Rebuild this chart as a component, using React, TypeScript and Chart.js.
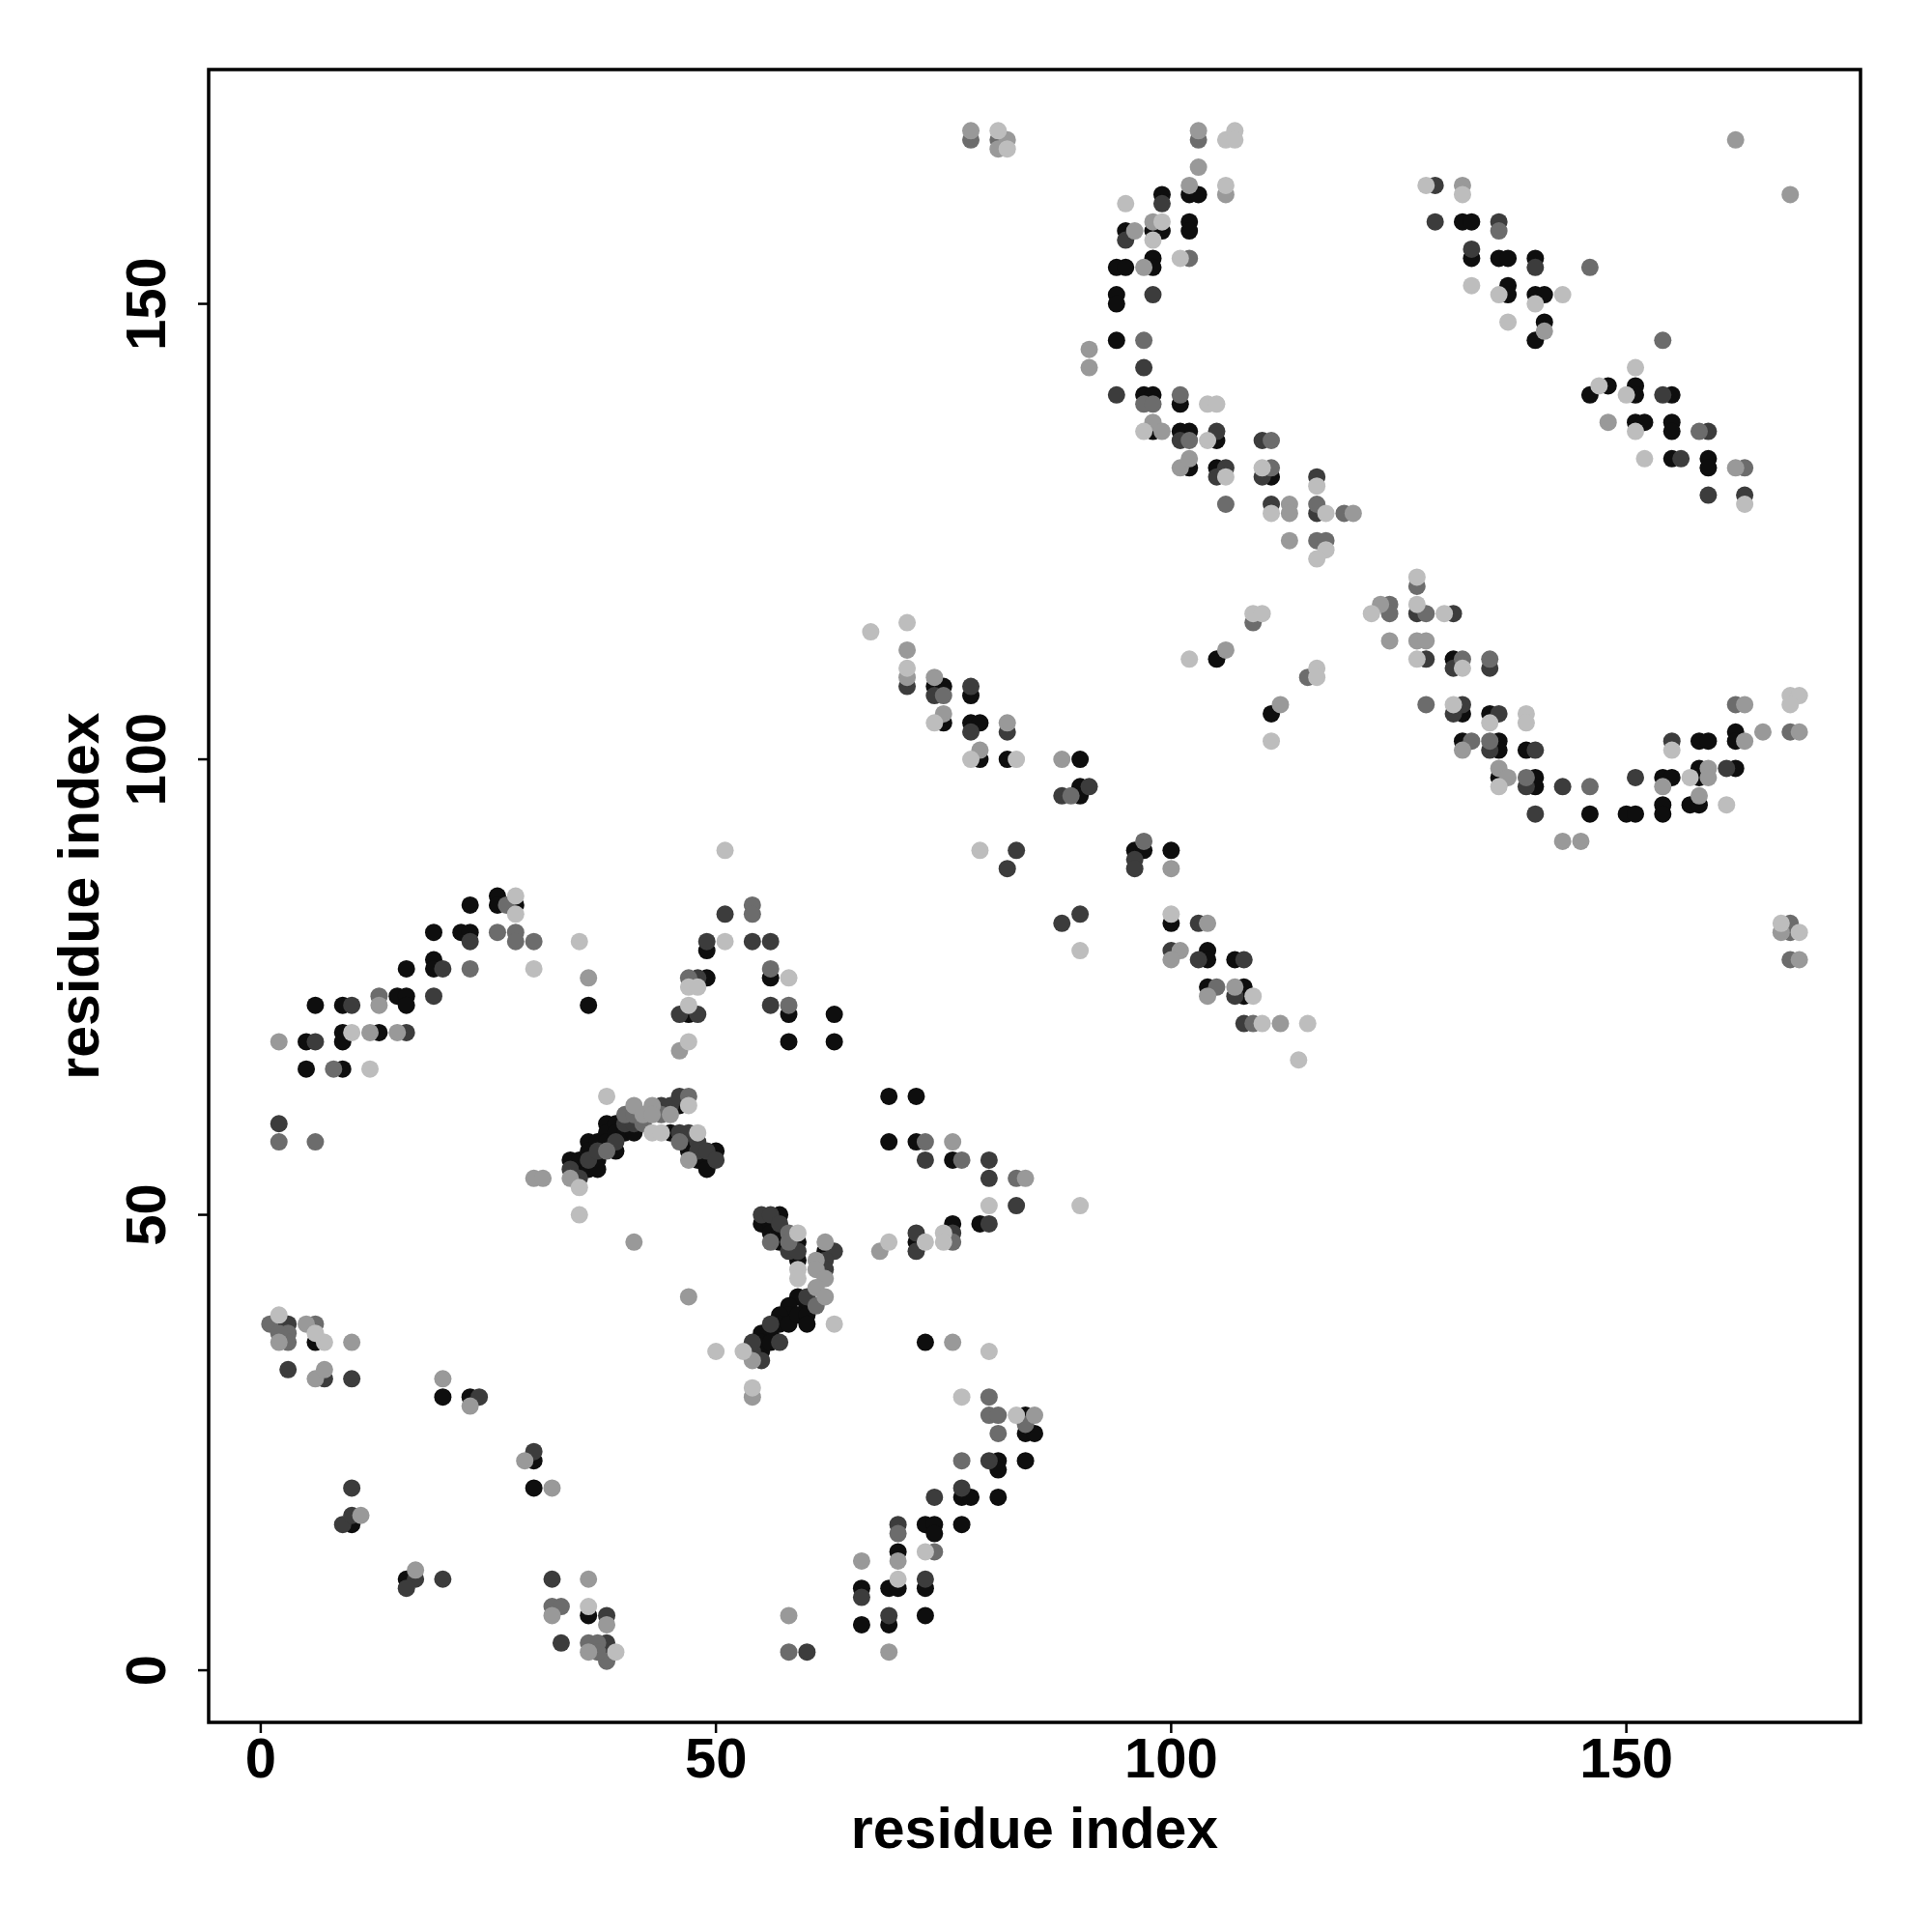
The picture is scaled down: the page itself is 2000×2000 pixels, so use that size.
import React, { useEffect, useRef } from "react";
import { Chart, registerables } from "chart.js";

Chart.register(...registerables);

type P = [number, number];

// Contact points, grouped by grey level (residue index i, residue index j)
const blackPoints: P[] = [
  [2,38],[6,36],[20,30],[23,30],[30,23],[30,20],[10,16],[16,10],[36,6],[38,2],
  [26,85],[26,84],[28,84],[23,84],[19,81],[22,81],[23,81],[19,78],[19,77],[16,77],[36,73],
  [15,74],[16,74],[16,73],[6,73],[9,73],[5,69],[9,70],[9,69],[13,70],[5,66],[9,66],
  [73,36],[84,28],[84,26],[85,26],[81,23],[81,22],[84,23],[77,19],[78,19],[81,19],
  [73,16],[74,16],[74,15],[77,16],[70,13],[66,9],[69,9],[70,9],[73,9],[66,5],[69,5],[73,6],
  [49,79],[56,76],[49,76],[47,72],[58,72],[63,72],[58,69],[63,69],[69,63],[72,63],
  [69,58],[72,58],[76,56],[76,49],[79,49],[72,47],
  [74,108],[75,108],[78,107],[75,104],[78,104],[79,104],[79,100],[82,100],[90,100],
  [90,97],[90,96],[105,111],[111,105],[96,90],[97,90],[100,90],[100,82],[104,79],[104,78],
  [107,78],[104,75],[108,75],[108,74],
  [34,56],[35,56],[35,55],[36,58],[36,57],[36,55],[37,58],[37,56],[37,55],[38,60],[38,59],
  [38,58],[39,60],[39,59],[39,57],[40,59],[41,59],[45,59],[46,62],[47,58],[47,57],[48,56],
  [49,56],[49,55],[50,57],
  [57,50],[55,49],[56,49],[56,48],[57,48],[57,47],[59,47],[59,45],[59,41],[60,40],[58,40],
  [58,39],[57,39],[57,38],[56,37],[55,37],[55,36],[55,35],[56,36],[58,38],[59,39],[60,39],
  [60,38],[62,46],
  [102,162],[103,162],[99,162],[95,158],[98,158],[99,158],[102,159],[102,158],[94,154],
  [95,154],[98,155],[98,154],[94,151],[94,150],[94,146],[97,140],[98,140],[101,139],
  [98,136],[101,136],[102,136],[105,135],[102,132],[105,132],[111,131],
  [132,159],[133,159],[133,155],[136,155],[137,155],[140,155],[137,152],[137,151],[140,151],
  [141,151],[141,148],[140,146],[146,140],[148,141],[151,141],[151,140],[155,140],[151,137],
  [152,137],[155,137],[155,136],[155,133],[159,133],[159,132],
  [131,111],[132,105],[135,105],[132,102],[136,102],[136,101],[139,101],[136,98],[140,98],
  [140,97],[146,94],[150,94],[151,94],[154,95],[154,94],[154,98],[155,98],[158,99],[158,98],
  [157,95],[158,95],[162,99],[158,102],[159,102],[162,103],[162,102]
];

const darkPoints: P[] = [
  [3,38],[3,33],[7,32],[10,32],[24,30],[30,24],[10,20],[9,16],[10,17],[17,10],[16,9],[20,10],
  [32,10],[38,6],[33,3],[38,3],
  [23,80],[20,77],[19,74],[10,73],[6,69],[16,70],[2,60],
  [54,35],[55,34],[80,23],[74,19],[77,20],[70,16],[66,8],[73,10],[69,6],[60,2],
  [83,90],[82,88],[90,83],[88,82],[51,83],[49,80],[54,80],[56,80],[48,76],[48,72],[46,72],
  [56,73],[73,56],[80,56],[80,54],[83,51],[76,48],[80,49],[72,48],[72,46],
  [71,108],[74,107],[78,108],[78,103],[82,103],[88,96],[91,97],[96,89],[96,88],
  [103,82],[100,79],[103,78],[108,78],[107,74],[108,71],
  [34,55],[35,54],[36,56],[37,57],[39,58],[40,60],[41,60],[44,62],[45,62],[46,63],[46,59],
  [47,59],[48,58],[48,57],[49,57],[50,56],
  [55,50],[56,50],[57,49],[58,46],[59,46],[63,46],[62,45],[62,44],[60,41],[56,38],[54,36],
  [57,36],
  [99,161],[95,157],[98,151],[97,143],[94,140],[101,135],[105,136],[105,131],[106,132],
  [110,135],[110,131],[116,131],[111,128],[116,127],
  [129,163],[129,159],[136,159],[133,156],[140,154],[154,140],[156,133],[159,136],[159,129],
  [163,129],
  [127,116],[131,116],[128,111],[131,110],[135,110],[132,106],[131,105],[136,105],[135,101],
  [140,101],[139,97],[143,97],[140,94],[151,98],[155,102],[161,99]
];

const midPoints: P[] = [
  [1,38],[3,37],[3,36],[2,37],[6,38],[32,7],[33,7],[36,3],[37,3],[38,1],[37,2],
  [27,84],[26,81],[28,81],[28,80],[30,80],[23,77],[13,74],[8,66],[2,58],[6,58],
  [80,30],[80,28],[81,28],[81,26],[84,27],[77,23],[70,15],[74,13],[58,2],
  [54,84],[54,83],[56,77],[47,76],[58,73],[47,63],[73,58],[77,56],[83,54],[76,47],
  [75,107],[89,96],[109,115],[115,109],[97,91],[105,75],[109,71],
  [38,57],[40,61],[41,61],[42,60],[44,61],[46,58],
  [58,48],[56,47],[58,47],[61,40],
  [78,168],[81,168],[103,168],[102,155],[97,146],[97,139],[98,139],[101,140],[102,135],
  [111,135],[111,132],[106,128],[116,128],[119,127],[116,124],[117,124],
  [136,158],[146,154],[154,146],[158,136],[163,132],
  [127,119],[124,117],[124,116],[128,116],[132,111],[135,111],[128,106],[133,102],[135,102],
  [139,98],[146,97],[162,106],[168,103],[168,82],[168,81],[168,78]
];

const greyPoints: P[] = [
  [2,36],[5,38],[10,36],[6,32],[7,33],[20,32],[23,29],[29,23],[32,20],[11,17],[17,11],
  [36,10],[32,6],[38,5],[36,2],[47,41],
  [36,76],[13,73],[2,69],[12,70],[15,70],[30,54],[31,54],[41,47],
  [54,34],[54,30],[76,36],[85,28],[66,12],[70,12],[58,6],[69,2],
  [46,68],[76,58],[84,54],[68,46],
  [71,112],[71,109],[74,109],[75,105],[82,104],[79,101],[88,100],[106,112],[112,106],
  [100,88],[104,82],[101,79],[100,78],[104,74],[107,75],[112,71],
  [34,54],[41,62],[42,61],[43,62],[43,61],[45,61],[47,56],
  [62,47],[61,45],[61,44],[62,43],[61,42],[62,41],
  [78,169],[81,167],[82,168],[103,169],[103,165],[102,163],[106,162],[96,158],[98,159],
  [97,154],[91,145],[91,143],[98,137],[99,136],[101,132],[102,133],[113,128],[113,127],
  [120,127],[113,124],
  [162,168],[168,162],[132,163],[141,147],[148,137],[162,132],
  [123,117],[124,113],[127,113],[128,113],[132,101],[136,99],[137,98],[143,91],[145,91],
  [154,97],[159,99],[159,98],[158,96],[163,102],[163,106],[165,103],[169,103],[167,81],
  [169,78]
];

const lightPoints: P[] = [
  [2,39],[7,36],[6,37],[36,7],[39,2],
  [28,85],[28,83],[35,80],[30,77],[10,70],[12,66],[35,50],[38,63],
  [50,35],[53,35],[54,31],[63,38],[80,35],[77,30],[83,28],[73,13],[70,10],
  [51,90],[79,90],[90,79],[51,80],[58,76],[47,75],[48,75],[47,73],[47,69],[47,62],
  [80,51],[90,51],[75,48],[75,47],[73,47],[69,47],
  [67,114],[71,115],[71,110],[74,104],[78,100],[83,100],[102,111],[109,116],[110,116],
  [111,102],[116,110],[116,109],[100,83],[109,74],[110,71],[115,71],[114,67],
  [35,53],[43,59],[44,59],[48,59],[59,48],[59,44],[59,43],
  [81,169],[82,167],[106,168],[107,169],[107,168],[106,163],[95,161],[99,159],[98,157],
  [101,155],[104,139],[105,139],[97,136],[104,135],[106,131],[110,132],[116,130],[111,127],
  [117,127],[117,123],[116,122],
  [128,163],[132,162],[133,152],[136,151],[143,151],[140,150],[137,148],[151,143],[147,141],
  [150,140],[151,136],[152,133],[163,128],
  [127,120],[122,116],[127,117],[130,116],[127,111],[132,110],[131,106],[135,104],[139,105],
  [139,104],[136,97],[155,101],[157,98],[161,95],[168,107],[169,107],[168,106],[167,82],
  [169,81]
];

const tickValues = [0, 50, 100, 150];
const xTitle = "residue index";
const yTitle = "residue index";

const seriesDefs: { name: string; pts: P[]; color: string }[] = [
  { name: "light", pts: lightPoints, color: "#bdbdbd" },
  { name: "grey", pts: greyPoints, color: "#999999" },
  { name: "mid", pts: midPoints, color: "#6c6c6c" },
  { name: "dark", pts: darkPoints, color: "#3c3c3c" },
  { name: "black", pts: blackPoints, color: "#0e0e0e" },
];

const FONT = '"Liberation Sans", Arial, Helvetica, sans-serif';

const framePlugin = {
  id: "rframe",
  afterDraw(chart: any) {
    const { ctx, chartArea } = chart;
    const { left, right, top, bottom } = chartArea;
    const xs = chart.scales.x;
    const ys = chart.scales.y;
    ctx.save();
    ctx.strokeStyle = "#000";
    ctx.lineWidth = 3.5;
    ctx.strokeRect(left, top, right - left, bottom - top);
    ctx.lineWidth = 2.5;
    ctx.fillStyle = "#000";
    ctx.font = `bold 58px ${FONT}`;
    ctx.textAlign = "center";
    ctx.textBaseline = "alphabetic";
    for (const v of tickValues) {
      const px = xs.getPixelForValue(v);
      ctx.beginPath();
      ctx.moveTo(px, bottom);
      ctx.lineTo(px, bottom + 11);
      ctx.stroke();
      ctx.fillText(String(v), px, bottom + 57);
      const py = ys.getPixelForValue(v);
      ctx.beginPath();
      ctx.moveTo(left, py);
      ctx.lineTo(left - 11, py);
      ctx.stroke();
      ctx.save();
      ctx.translate(left - 45, py);
      ctx.rotate(-Math.PI / 2);
      ctx.fillText(String(v), 0, 0);
      ctx.restore();
    }
    ctx.font = `bold 59px ${FONT}`;
    ctx.fillText(xTitle, (left + right) / 2, bottom + 130);
    ctx.save();
    ctx.translate(left - 114, (top + bottom) / 2);
    ctx.rotate(-Math.PI / 2);
    ctx.fillText(yTitle, 0, 0);
    ctx.restore();
    ctx.restore();
  },
};

export default function App() {
  const ref = useRef<HTMLCanvasElement | null>(null);
  useEffect(() => {
    document.body.style.margin = "0";
    const canvas = ref.current;
    if (!canvas) return;
    const chart = new Chart(canvas, {
      type: "scatter",
      data: {
        datasets: seriesDefs.map((s) => ({
          label: s.name,
          data: s.pts.map(([x, y]) => ({ x, y })),
          backgroundColor: s.color,
          borderWidth: 0,
          pointRadius: 9,
          pointHoverRadius: 9,
        })),
      },
      options: {
        responsive: false,
        animation: false,
        devicePixelRatio: 1,
        layout: { padding: { left: 216, top: 72, right: 74, bottom: 217 } },
        plugins: { legend: { display: false }, tooltip: { enabled: false } },
        scales: {
          x: { type: "linear", min: -5.72, max: 175.72, display: false },
          y: { type: "linear", min: -5.72, max: 175.72, display: false },
        },
      },
      plugins: [framePlugin],
    });
    return () => chart.destroy();
  }, []);
  return (
    <div style={{ width: 2000, height: 2000, background: "#fff" }}>
      <canvas ref={ref} width={2000} height={2000} style={{ display: "block", width: 2000, height: 2000 }} />
    </div>
  );
}
